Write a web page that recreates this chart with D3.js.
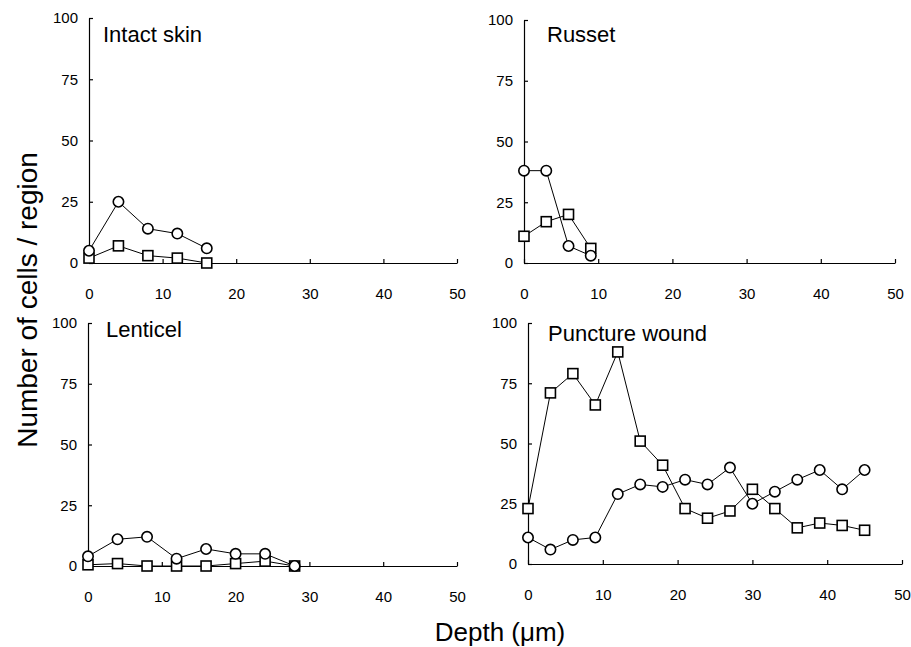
<!DOCTYPE html>
<html lang="en">
<head>
    <meta charset="utf-8">
    <title>Number of cells per region by depth</title>
    <script type="text/javascript" src="https://cdn.jsdelivr.net/npm/d3@7/dist/d3.min.js"></script>
    <style type="text/css">
        body { margin: 0; background: #fff; }
        svg { display: block; }
        text { font-family: "Liberation Sans", Arial, sans-serif; fill: #000; }
    </style>
</head>
<body>
    <script type="text/javascript">

        var w = 911;
        var h = 647;

        // data
        var panelTitles = ["Intact skin", "Russet", "Lenticel", "Puncture wound"];
        var xTicks = [0, 10, 20, 30, 40, 50];
        var yTicks = [0, 25, 50, 75, 100];

        var intactDepth  = [0, 4, 8, 12, 16];
        var intactCircle = [5, 25, 14, 12, 6];
        var intactSquare = [2, 7, 3, 2, 0];

        var russetDepth  = [0, 3, 6, 9];
        var russetCircle = [38, 38, 7, 3];
        var russetSquare = [11, 17, 20, 6];

        var lenticelDepth  = [0, 4, 8, 12, 16, 20, 24, 28];
        var lenticelCircle = [4, 11, 12, 3, 7, 5, 5, 0];
        var lenticelSquare = [0.5, 1, 0, 0, 0, 1, 2, 0];

        var woundDepth  = [0, 3, 6, 9, 12, 15, 18, 21, 24, 27, 30, 33, 36, 39, 42, 45];
        var woundCircle = [11, 6, 10, 11, 29, 33, 32, 35, 33, 40, 25, 30, 35, 39, 31, 39];
        var woundSquare = [23, 71, 79, 66, 88, 51, 41, 23, 19, 22, 31, 23, 15, 17, 16, 14];

        // plot boxes: [x0, x1, yBottom, yTop], title offset [dx, dy]
        var layout = [
            { box: [89, 457, 263, 18],  title: [14, 24] },
            { box: [524, 895, 263, 20], title: [23, 22] },
            { box: [88, 457, 566, 323], title: [18, 14] },
            { box: [528, 902, 564, 323], title: [20, 18] }
        ];

        var panels = [
            { depth: intactDepth, circle: intactCircle, square: intactSquare },
            { depth: russetDepth, circle: russetCircle, square: russetSquare },
            { depth: lenticelDepth, circle: lenticelCircle, square: lenticelSquare },
            { depth: woundDepth, circle: woundCircle, square: woundSquare }
        ];

        var svg = d3.select("body")
            .append("svg")
            .attr("width", w)
            .attr("height", h);

        panels.forEach(function (p, i) {
            var L = layout[i];
            var xScale = d3.scaleLinear().domain([0, 50]).range([L.box[0], L.box[1]]);
            var yScale = d3.scaleLinear().domain([0, 100]).range([L.box[2], L.box[3]]);

            var g = svg.append("g");

            //Axes, ticks pointing inward
            var xAxis = d3.axisBottom(xScale)
                .tickValues(xTicks)
                .tickSizeInner(-4)
                .tickSizeOuter(0)
                .tickPadding(25);
            var yAxis = d3.axisLeft(yScale)
                .tickValues(yTicks)
                .tickSizeInner(-4)
                .tickSizeOuter(0)
                .tickPadding(11);

            g.append("g")
                .attr("transform", "translate(0," + L.box[2] + ")")
                .call(xAxis);
            g.append("g")
                .attr("transform", "translate(" + L.box[0] + ",0)")
                .call(yAxis);

            g.selectAll(".domain, .tick line")
                .attr("stroke", "#000")
                .attr("stroke-width", 1.2);
            g.selectAll(".tick text")
                .attr("font-size", "15px")
                .attr("font-family", "'Liberation Sans', Arial, sans-serif")
                .attr("fill", "#000");

            g.append("text")
                .attr("x", L.box[0] + L.title[0])
                .attr("y", yScale(100) + L.title[1])
                .attr("font-size", "22px")
                .text(panelTitles[i]);

            var pts = function (vals) {
                return vals.map(function (v, k) { return [p.depth[k], v]; });
            };
            var line = d3.line()
                .x(function (d) { return xScale(d[0]); })
                .y(function (d) { return yScale(d[1]); });

            // square series
            g.append("path")
                .datum(pts(p.square))
                .attr("d", line)
                .attr("fill", "none")
                .attr("stroke", "#000")
                .attr("stroke-width", 1);
            // circle series
            g.append("path")
                .datum(pts(p.circle))
                .attr("d", line)
                .attr("fill", "none")
                .attr("stroke", "#000")
                .attr("stroke-width", 1);

            g.selectAll("rect.sq")
                .data(pts(p.square))
                .enter()
                .append("rect")
                .attr("class", "sq")
                .attr("x", function (d) { return xScale(d[0]) - 5; })
                .attr("y", function (d) { return yScale(d[1]) - 5; })
                .attr("width", 10)
                .attr("height", 10)
                .attr("fill", "#fff")
                .attr("stroke", "#000")
                .attr("stroke-width", 1.6);

            g.selectAll("circle")
                .data(pts(p.circle))
                .enter()
                .append("circle")
                .attr("cx", function (d) { return xScale(d[0]); })
                .attr("cy", function (d) { return yScale(d[1]); })
                .attr("r", 5.2)
                .attr("fill", "#fff")
                .attr("stroke", "#000")
                .attr("stroke-width", 1.6);
        });

        //Shared axis titles
        svg.append("text")
            .attr("transform", "translate(37,300) rotate(-90)")
            .attr("text-anchor", "middle")
            .attr("font-size", "28px")
            .text("Number of cells / region");

        svg.append("text")
            .attr("x", 500)
            .attr("y", 641)
            .attr("text-anchor", "middle")
            .attr("font-size", "26px")
            .text("Depth (\u03bcm)");

    </script>
</body>
</html>
